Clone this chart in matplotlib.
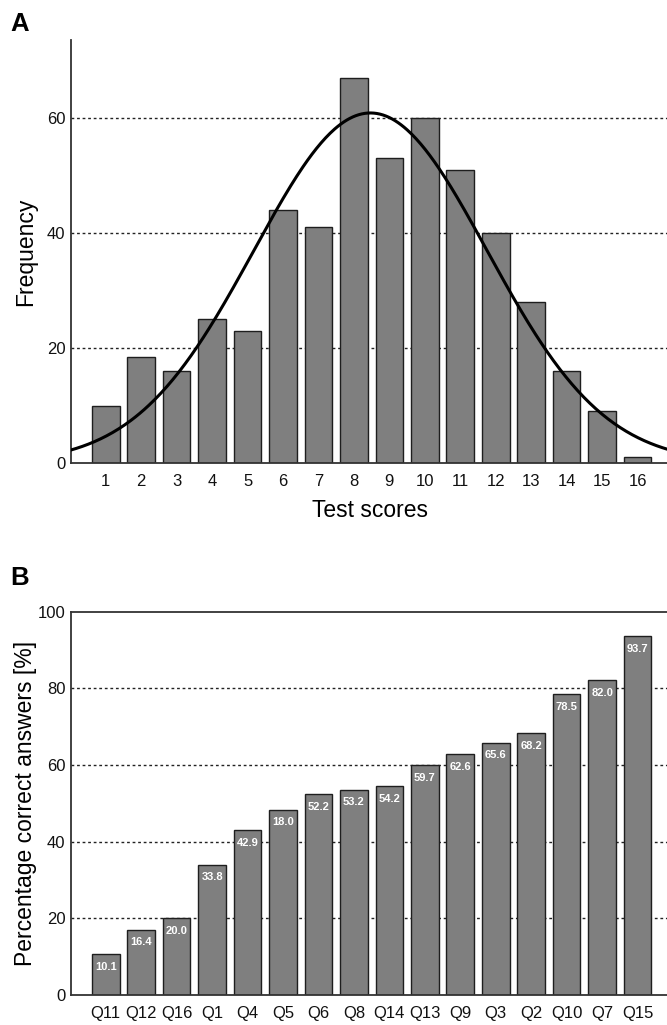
import numpy as np
import matplotlib
matplotlib.use("Agg")
import matplotlib.pyplot as plt

plt.rcParams["font.family"] = ["Liberation Sans", "DejaVu Sans"]

# Panel A: distribution of test scores
scores = list(range(1, 17))
freq = [10, 18.5, 16, 25, 23, 44, 41, 67, 53, 60, 51, 40, 28, 16, 9, 1]

# Panel B: percentage of correct answers per question
questions = ["Q11", "Q12", "Q16", "Q1", "Q4", "Q5", "Q6", "Q8",
             "Q14", "Q13", "Q9", "Q3", "Q2", "Q10", "Q7", "Q15"]
pct_values = [10.6, 17.0, 20.0, 34.0, 43.0, 48.3, 52.4, 53.5,
              54.4, 60.0, 62.8, 65.8, 68.3, 78.5, 82.1, 93.6]
pct_labels = ["10.1", "16.4", "20.0", "33.8", "42.9", "18.0", "52.2", "53.2",
              "54.2", "59.7", "62.6", "65.6", "68.2", "78.5", "82.0", "93.7"]

BAR_COLOR = "#7f7f7f"
EDGE_COLOR = "#1e1e1e"
GRID_STYLE = dict(color="#222222", lw=1.0, ls=(0, (2, 2)), zorder=1)

W, H = 667, 1025
fig = plt.figure(figsize=(W / 100, H / 100), dpi=100)


def px_axes(left, top, right, bottom):
    return fig.add_axes([left / W, 1 - bottom / H, (right - left) / W, (bottom - top) / H])


def style_axes(ax):
    ax.spines["right"].set_visible(False)
    for s in ["left", "bottom", "top"]:
        ax.spines[s].set_color("#333333")
        ax.spines[s].set_linewidth(1.3)
    ax.tick_params(axis="both", length=0, labelsize=12, pad=4, colors="#111111")
    ax.tick_params(axis="x", pad=8)
    ax.set_xlim(0.02, 16.83)


# ---- Panel A ----
axA = px_axes(71, 40, 667, 463)
style_axes(axA)
axA.spines["top"].set_visible(False)
axA.bar(scores, freq, width=0.78, color=BAR_COLOR, edgecolor=EDGE_COLOR, linewidth=1.0, zorder=2)

# normal curve fitted to the score distribution
x_arr = np.array(scores, dtype=float)
f_arr = np.array(freq, dtype=float)
n_total = f_arr.sum()
mu = (x_arr * f_arr).sum() / n_total
sd = np.sqrt((f_arr * (x_arr - mu) ** 2).sum() / n_total)
xs = np.linspace(0, 17, 400)
ys = n_total / (sd * np.sqrt(2 * np.pi)) * np.exp(-0.5 * ((xs - mu) / sd) ** 2)
axA.plot(xs, ys, color="black", lw=2.2, zorder=3)

axA.set_ylim(0, 73.6)
axA.set_yticks([0, 20, 40, 60])
axA.set_xticks(scores)
for yv in [20, 40, 60]:
    axA.axhline(yv, **GRID_STYLE)
axA.set_xlabel("Test scores", fontsize=16.5)
axA.set_ylabel("Frequency", fontsize=16.5)
axA.xaxis.set_label_coords((370 - 71) / 596, -(499 - 463) / 423)
axA.yaxis.set_label_coords(-(71 - 37) / 596, 0.5)
fig.text(10 / W, 1 - 24 / H, "A", fontsize=18.5, fontweight="bold", va="center", ha="left")

# ---- Panel B ----
axB = px_axes(71, 611.7, 667, 995)
style_axes(axB)
pos = np.arange(1, len(questions) + 1)
axB.bar(pos, pct_values, width=0.78, color=BAR_COLOR, edgecolor=EDGE_COLOR, linewidth=1.0, zorder=2)
axB.set_ylim(0, 100)
axB.set_yticks([0, 20, 40, 60, 80, 100])
axB.set_xticks(pos)
axB.set_xticklabels(questions)
for yv in [20, 40, 60, 80]:
    axB.axhline(yv, **GRID_STYLE)
for p, v, lab in zip(pos, pct_values, pct_labels):
    axB.annotate(lab, (p, v), xytext=(0, -9), textcoords="offset points",
                 ha="center", va="center", color="white", fontsize=8,
                 fontweight="bold", zorder=4)
axB.set_ylabel("Percentage correct answers [%]", fontsize=16.5)
axB.yaxis.set_label_coords(-(71 - 37) / 596, 0.5)
fig.text(10 / W, 1 - 578 / H, "B", fontsize=18.5, fontweight="bold", va="center", ha="left")

fig.savefig("out.png", dpi=100)
